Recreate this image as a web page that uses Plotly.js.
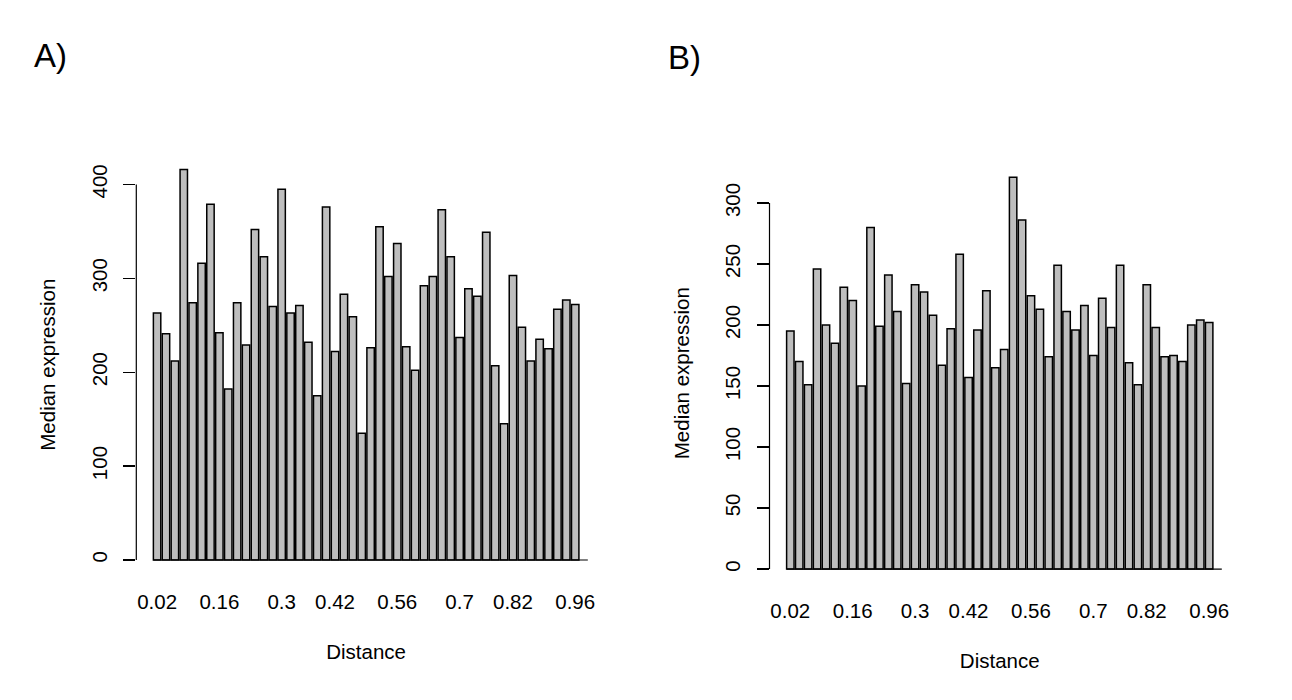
<!DOCTYPE html>
<html>
<head>
<meta charset="utf-8">
<script src="https://cdn.plot.ly/plotly-3.0.1.min.js"></script>
<style>
  html, body { margin: 0; padding: 0; background: #fff; }
  #chart { width: 1292px; height: 700px; }
</style>
</head>
<body>
<div id="chart"></div>
<script>
// distance bins 0.02 .. 0.96
var distance = [0.02, 0.04, 0.06, 0.08, 0.10, 0.12, 0.14, 0.16, 0.18, 0.20,
  0.22, 0.24, 0.26, 0.28, 0.30, 0.32, 0.34, 0.36, 0.38, 0.40,
  0.42, 0.44, 0.46, 0.48, 0.50, 0.52, 0.54, 0.56, 0.58, 0.60,
  0.62, 0.64, 0.66, 0.68, 0.70, 0.72, 0.74, 0.76, 0.78, 0.80,
  0.82, 0.84, 0.86, 0.88, 0.90, 0.92, 0.94, 0.96];

// panel A median expression
var exprA = [263, 241, 212, 416, 274, 316, 379, 242, 182, 274,
  229, 352, 323, 270, 395, 263, 271, 232, 175, 376,
  222, 283, 259, 135, 226, 355, 302, 337, 227, 202,
  292, 302, 373, 323, 237, 289, 281, 349, 207, 145,
  303, 248, 212, 235, 225, 267, 277, 272];

// panel B median expression
var exprB = [195, 170, 151, 246, 200, 185, 231, 220, 150, 280,
  199, 241, 211, 152, 233, 227, 208, 167, 197, 258,
  157, 196, 228, 165, 180, 321, 286, 224, 213, 174,
  249, 211, 196, 216, 175, 222, 198, 249, 169, 151,
  233, 198, 174, 175, 170, 200, 204, 202];

// labels R managed to fit under the bars
var tickVals = [0.02, 0.16, 0.30, 0.42, 0.56, 0.70, 0.82, 0.96];
var tickText = ['0.02', '0.16', '0.3', '0.42', '0.56', '0.7', '0.82', '0.96'];

var yTicksA = [0, 100, 200, 300, 400];
var yTicksB = [0, 50, 100, 150, 200, 250, 300];

var W = 1292, H = 700;
var FONT = 'Liberation Sans, Arial, sans-serif';
var FS = 20.5;
var barW = 0.02 / 1.2;   // R barplot: space = 0.2

function bars(y, xa, ya) {
  return {
    x: distance, y: y, type: 'bar', xaxis: xa, yaxis: ya,
    width: barW,
    marker: { color: '#bebebe', line: { color: '#000', width: 1.5 } },
    hoverinfo: 'x+y'
  };
}

function xax(left, right, anchor) {
  return {
    domain: [left / W, right / W],
    anchor: anchor,
    range: [distance[0] - barW / 2 - 2.304 * barW, distance[47] + barW / 2 + 2.304 * barW],
    tickvals: tickVals, ticktext: tickText,
    ticks: '', showline: false, showgrid: false, zeroline: false,
    tickfont: { family: FONT, size: FS, color: '#000' },
    ticklabelstandoff: 12,
    title: { text: 'Distance', font: { family: FONT, size: FS, color: '#000' }, standoff: 32 }
  };
}

function yax(top, bottom, ymax, ticks, anchor) {
  var pad = 0.04 * ymax;
  return {
    domain: [1 - bottom / H, 1 - top / H],
    anchor: anchor,
    range: [-pad, ymax + pad],
    tickvals: ticks,
    ticks: 'outside', ticklen: 12, tickcolor: '#000', tickwidth: 1.2,
    tickangle: -90,
    showline: false, showgrid: false, zeroline: false,
    tickfont: { family: FONT, size: FS, color: '#000' },
    ticklabelstandoff: 8,
    title: { text: 'Median expression', font: { family: FONT, size: FS, color: '#000' }, standoff: 26 }
  };
}

var maxA = Math.max.apply(null, exprA);
var maxB = Math.max.apply(null, exprB);

var data = [bars(exprA, 'x', 'y'), bars(exprB, 'x2', 'y2')];

var lineEnd = distance[47] + barW / 2 + 1.2 * barW;
var lineStart = distance[0] - barW / 2;

var layout = {
  width: W, height: H,
  margin: { l: 0, r: 0, t: 0, b: 0 },
  paper_bgcolor: '#fff', plot_bgcolor: '#fff',
  showlegend: false,
  bargap: 0,
  xaxis: xax(136.3, 596, 'y'),
  yaxis: yax(153.8, 575.6, maxA, yTicksA, 'x'),
  xaxis2: xax(769.5, 1230, 'y2'),
  yaxis2: yax(161.7, 584.7, maxB, yTicksB, 'x2'),
  shapes: [
    // y axis lines spanning first to last tick, like R's axis()
    { type: 'line', xref: 'x domain', yref: 'y', x0: 0, x1: 0, y0: 0, y1: 400, line: { color: '#000', width: 1.2 } },
    { type: 'line', xref: 'x2 domain', yref: 'y2', x0: 0, x1: 0, y0: 0, y1: 300, line: { color: '#000', width: 1.2 } },
    // base line under the bars
    { type: 'line', xref: 'x', yref: 'y', x0: lineStart, x1: lineEnd, y0: 0, y1: 0, line: { color: '#000', width: 1.2 } },
    { type: 'line', xref: 'x2', yref: 'y2', x0: lineStart, x1: lineEnd, y0: 0, y1: 0, line: { color: '#000', width: 1.2 } }
  ],
  annotations: [
    { text: 'A)', xref: 'paper', yref: 'paper', x: 32 / W, y: 1 - 56 / H, xanchor: 'left', yanchor: 'middle',
      showarrow: false, font: { family: FONT, size: 33, color: '#000' } },
    { text: 'B)', xref: 'paper', yref: 'paper', x: 666 / W, y: 1 - 58 / H, xanchor: 'left', yanchor: 'middle',
      showarrow: false, font: { family: FONT, size: 33, color: '#000' } }
  ]
};

Plotly.newPlot('chart', data, layout, { displayModeBar: false, staticPlot: true });
</script>
</body>
</html>
